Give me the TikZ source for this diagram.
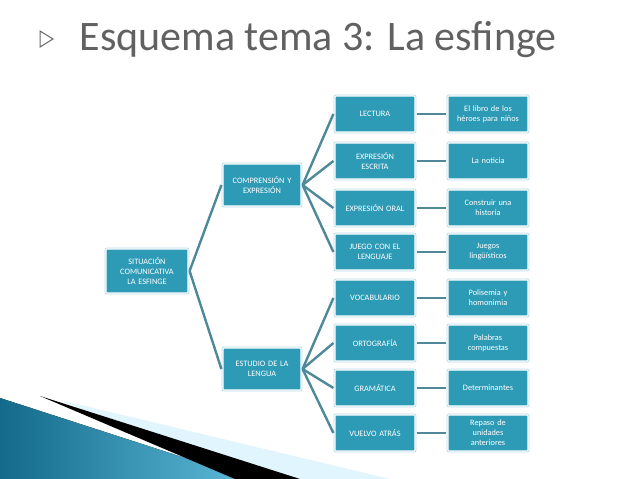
\documentclass[tikz,border=0pt]{standalone}
\usepackage{fontspec}
\setmainfont{Carlito}
\begin{document}
\begin{tikzpicture}[x=1pt,y=-1pt,
 bx/.style={draw=white,line width=1.2pt,fill=boxc,rounded corners=2pt,text=white,align=center,font=\fontsize{8.3}{10}\selectfont,inner sep=1pt,
   double=bordc,double distance=0.8pt},
 c3/.style={bx,minimum width=81pt,minimum height=38pt,text width=80pt},
 c4/.style={bx,minimum width=81pt,minimum height=38pt,text width=80pt},
 ln/.style={draw=linec,line width=2.4pt}]
\definecolor{boxc}{HTML}{2E9BB6}
\definecolor{bordc}{HTML}{B9DCE6}
\definecolor{linec}{HTML}{4F8898}
\definecolor{dk}{HTML}{136A8A}
\definecolor{lt}{HTML}{5DBAD8}
\useasboundingbox (0,0) rectangle (638,479);
\fill[white] (0,0) rectangle (638,479);
\node[font=\fontsize{42}{46}\selectfont,text=black!62] (t) at (318,40) {Esquema tema 3: La esfinge};
\draw[black!60,line width=1pt] (40,31) -- (53,39) -- (40,47) -- cycle;
% decoration
\fill[left color=dk,right color=lt] (0,398) -- (250,479) -- (0,479) -- cycle;
\fill[cyan!12] (60,400) -- (390,479) -- (250,479) -- cycle;
\fill[black] (40,396) -- (300,479) -- (235,479) -- cycle;
\node[bx,minimum width=84pt,minimum height=46pt,text width=82pt] (r) at (147,271) {SITUACIÓN\\COMUNICATIVA\\LA ESFINGE};
\node[bx,minimum width=80pt,minimum height=44pt,text width=78pt] (a) at (262,185) {COMPRENSIÓN Y\\EXPRESIÓN};
\node[bx,minimum width=80pt,minimum height=44pt,text width=78pt] (b) at (262,369) {ESTUDIO DE LA\\LENGUA};
\node[c3] (p1) at (375,114) {LECTURA};
\node[c3] (p2) at (375,161) {EXPRESIÓN\\ESCRITA};
\node[c3] (p3) at (375,208) {EXPRESIÓN ORAL};
\node[c3] (p4) at (375,252) {JUEGO CON EL\\LENGUAJE};
\node[c3] (p5) at (375,298) {VOCABULARIO};
\node[c3] (p6) at (375,343) {ORTOGRAFÍA};
\node[c3] (p7) at (375,388) {GRAMÁTICA};
\node[c3] (p8) at (375,433) {VUELVO ATRÁS};
\node[c4] (q1) at (488,114) {El libro de los\\héroes para niños};
\node[c4] (q2) at (488,161) {La noticia};
\node[c4] (q3) at (488,208) {Construir una\\historia};
\node[c4] (q4) at (488,252) {Juegos\\lingüísticos};
\node[c4] (q5) at (488,298) {Polisemia y\\homonimia};
\node[c4] (q6) at (488,343) {Palabras\\compuestas};
\node[c4] (q7) at (488,388) {Determinantes};
\node[c4] (q8) at (488,433) {Repaso de\\unidades\\anteriores};
\draw[ln] (r.east) -- (a.west);
\draw[ln] (r.east) -- (b.west);
\foreach \i in {1,...,4} {\draw[ln] (a.east) -- (p\i.west); \draw[ln] (p\i.east) -- (q\i.west);}
\foreach \i in {5,...,8} {\draw[ln] (b.east) -- (p\i.west); \draw[ln] (p\i.east) -- (q\i.west);}
\end{tikzpicture}
\end{document}
